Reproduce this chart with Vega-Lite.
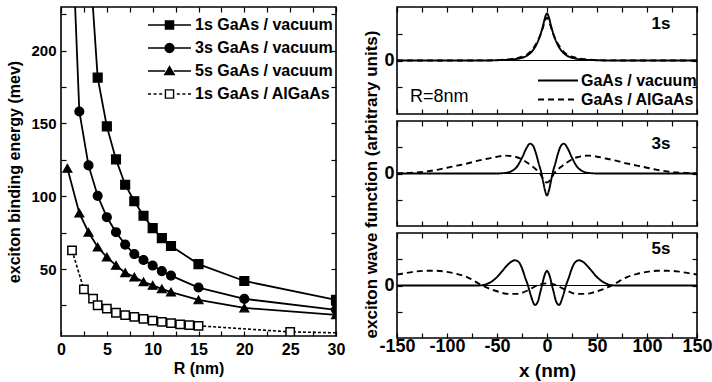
{
  "$schema": "https://vega.github.io/schema/vega-lite/v6.json",
  "padding": {"left": 6, "top": 5, "right": 0, "bottom": 0},
  "background": "white",
  "datasets": {
    "be": [
      {"R": 3, "E": 275, "series": "1s GaAs / vacuum"},
      {"R": 4, "E": 181.5, "series": "1s GaAs / vacuum"},
      {"R": 5, "E": 148, "series": "1s GaAs / vacuum"},
      {"R": 6, "E": 125.3, "series": "1s GaAs / vacuum"},
      {"R": 7, "E": 107.9, "series": "1s GaAs / vacuum"},
      {"R": 8, "E": 96.6, "series": "1s GaAs / vacuum"},
      {"R": 9, "E": 86.6, "series": "1s GaAs / vacuum"},
      {"R": 10, "E": 78.1, "series": "1s GaAs / vacuum"},
      {"R": 11, "E": 71.2, "series": "1s GaAs / vacuum"},
      {"R": 12, "E": 65.8, "series": "1s GaAs / vacuum"},
      {"R": 15, "E": 53.4, "series": "1s GaAs / vacuum"},
      {"R": 20, "E": 41.8, "series": "1s GaAs / vacuum"},
      {"R": 30, "E": 28.8, "series": "1s GaAs / vacuum"},
      {"R": 1, "E": 315, "series": "3s GaAs / vacuum"},
      {"R": 2, "E": 158.2, "series": "3s GaAs / vacuum"},
      {"R": 3, "E": 121.2, "series": "3s GaAs / vacuum"},
      {"R": 4, "E": 100.3, "series": "3s GaAs / vacuum"},
      {"R": 5, "E": 85.6, "series": "3s GaAs / vacuum"},
      {"R": 6, "E": 75.3, "series": "3s GaAs / vacuum"},
      {"R": 7, "E": 66.8, "series": "3s GaAs / vacuum"},
      {"R": 8, "E": 60.3, "series": "3s GaAs / vacuum"},
      {"R": 9, "E": 56.2, "series": "3s GaAs / vacuum"},
      {"R": 10, "E": 52.4, "series": "3s GaAs / vacuum"},
      {"R": 11, "E": 48.6, "series": "3s GaAs / vacuum"},
      {"R": 12, "E": 45.5, "series": "3s GaAs / vacuum"},
      {"R": 15, "E": 37.3, "series": "3s GaAs / vacuum"},
      {"R": 20, "E": 29.5, "series": "3s GaAs / vacuum"},
      {"R": 30, "E": 22, "series": "3s GaAs / vacuum"},
      {"R": 0.7, "E": 119.2, "series": "5s GaAs / vacuum"},
      {"R": 2, "E": 88.4, "series": "5s GaAs / vacuum"},
      {"R": 3, "E": 75.3, "series": "5s GaAs / vacuum"},
      {"R": 4, "E": 65.1, "series": "5s GaAs / vacuum"},
      {"R": 5, "E": 58.2, "series": "5s GaAs / vacuum"},
      {"R": 6, "E": 52.5, "series": "5s GaAs / vacuum"},
      {"R": 7, "E": 47.5, "series": "5s GaAs / vacuum"},
      {"R": 8, "E": 44.5, "series": "5s GaAs / vacuum"},
      {"R": 9, "E": 41.2, "series": "5s GaAs / vacuum"},
      {"R": 10, "E": 38.8, "series": "5s GaAs / vacuum"},
      {"R": 11, "E": 36.4, "series": "5s GaAs / vacuum"},
      {"R": 12, "E": 34.2, "series": "5s GaAs / vacuum"},
      {"R": 15, "E": 28.8, "series": "5s GaAs / vacuum"},
      {"R": 20, "E": 23.3, "series": "5s GaAs / vacuum"},
      {"R": 30, "E": 18.5, "series": "5s GaAs / vacuum"},
      {"R": 1.2, "E": 62.8, "series": "1s GaAs / AlGaAs"},
      {"R": 2.5, "E": 36, "series": "1s GaAs / AlGaAs"},
      {"R": 3.5, "E": 29.7, "series": "1s GaAs / AlGaAs"},
      {"R": 4, "E": 25.1, "series": "1s GaAs / AlGaAs"},
      {"R": 5, "E": 22.8, "series": "1s GaAs / AlGaAs"},
      {"R": 6, "E": 20, "series": "1s GaAs / AlGaAs"},
      {"R": 7, "E": 18.3, "series": "1s GaAs / AlGaAs"},
      {"R": 8, "E": 17.1, "series": "1s GaAs / AlGaAs"},
      {"R": 9, "E": 15.8, "series": "1s GaAs / AlGaAs"},
      {"R": 10, "E": 14.6, "series": "1s GaAs / AlGaAs"},
      {"R": 11, "E": 13.7, "series": "1s GaAs / AlGaAs"},
      {"R": 12, "E": 12.8, "series": "1s GaAs / AlGaAs"},
      {"R": 13, "E": 12, "series": "1s GaAs / AlGaAs"},
      {"R": 14, "E": 11.5, "series": "1s GaAs / AlGaAs"},
      {"R": 15, "E": 11, "series": "1s GaAs / AlGaAs"},
      {"R": 25, "E": 6.8, "series": "1s GaAs / AlGaAs"},
      {"R": 30, "E": 6.2, "series": "1s GaAs / AlGaAs"}
    ],
    "wf": [
      {"x": -150, "psi": 0, "state": "1s", "material": "GaAs / vacuum"},
      {"x": -100, "psi": 0, "state": "1s", "material": "GaAs / vacuum"},
      {"x": -60, "psi": 0, "state": "1s", "material": "GaAs / vacuum"},
      {"x": -50, "psi": 0.005, "state": "1s", "material": "GaAs / vacuum"},
      {"x": -40, "psi": 0.012, "state": "1s", "material": "GaAs / vacuum"},
      {"x": -35, "psi": 0.02, "state": "1s", "material": "GaAs / vacuum"},
      {"x": -30, "psi": 0.03, "state": "1s", "material": "GaAs / vacuum"},
      {"x": -25, "psi": 0.05, "state": "1s", "material": "GaAs / vacuum"},
      {"x": -20, "psi": 0.09, "state": "1s", "material": "GaAs / vacuum"},
      {"x": -15, "psi": 0.17, "state": "1s", "material": "GaAs / vacuum"},
      {"x": -10, "psi": 0.32, "state": "1s", "material": "GaAs / vacuum"},
      {"x": -7, "psi": 0.46, "state": "1s", "material": "GaAs / vacuum"},
      {"x": -4, "psi": 0.65, "state": "1s", "material": "GaAs / vacuum"},
      {"x": -2, "psi": 0.8, "state": "1s", "material": "GaAs / vacuum"},
      {"x": 0, "psi": 0.88, "state": "1s", "material": "GaAs / vacuum"},
      {"x": 2, "psi": 0.8, "state": "1s", "material": "GaAs / vacuum"},
      {"x": 4, "psi": 0.65, "state": "1s", "material": "GaAs / vacuum"},
      {"x": 7, "psi": 0.46, "state": "1s", "material": "GaAs / vacuum"},
      {"x": 10, "psi": 0.32, "state": "1s", "material": "GaAs / vacuum"},
      {"x": 15, "psi": 0.17, "state": "1s", "material": "GaAs / vacuum"},
      {"x": 20, "psi": 0.09, "state": "1s", "material": "GaAs / vacuum"},
      {"x": 25, "psi": 0.05, "state": "1s", "material": "GaAs / vacuum"},
      {"x": 30, "psi": 0.03, "state": "1s", "material": "GaAs / vacuum"},
      {"x": 35, "psi": 0.02, "state": "1s", "material": "GaAs / vacuum"},
      {"x": 40, "psi": 0.012, "state": "1s", "material": "GaAs / vacuum"},
      {"x": 50, "psi": 0.005, "state": "1s", "material": "GaAs / vacuum"},
      {"x": 60, "psi": 0, "state": "1s", "material": "GaAs / vacuum"},
      {"x": 100, "psi": 0, "state": "1s", "material": "GaAs / vacuum"},
      {"x": 150, "psi": 0, "state": "1s", "material": "GaAs / vacuum"},
      {"x": -150, "psi": 0, "state": "1s", "material": "GaAs / AlGaAs"},
      {"x": -100, "psi": 0, "state": "1s", "material": "GaAs / AlGaAs"},
      {"x": -60, "psi": 0.003, "state": "1s", "material": "GaAs / AlGaAs"},
      {"x": -50, "psi": 0.008, "state": "1s", "material": "GaAs / AlGaAs"},
      {"x": -40, "psi": 0.02, "state": "1s", "material": "GaAs / AlGaAs"},
      {"x": -35, "psi": 0.03, "state": "1s", "material": "GaAs / AlGaAs"},
      {"x": -30, "psi": 0.045, "state": "1s", "material": "GaAs / AlGaAs"},
      {"x": -25, "psi": 0.07, "state": "1s", "material": "GaAs / AlGaAs"},
      {"x": -20, "psi": 0.11, "state": "1s", "material": "GaAs / AlGaAs"},
      {"x": -15, "psi": 0.2, "state": "1s", "material": "GaAs / AlGaAs"},
      {"x": -10, "psi": 0.34, "state": "1s", "material": "GaAs / AlGaAs"},
      {"x": -7, "psi": 0.46, "state": "1s", "material": "GaAs / AlGaAs"},
      {"x": -4, "psi": 0.62, "state": "1s", "material": "GaAs / AlGaAs"},
      {"x": -2, "psi": 0.74, "state": "1s", "material": "GaAs / AlGaAs"},
      {"x": 0, "psi": 0.8, "state": "1s", "material": "GaAs / AlGaAs"},
      {"x": 2, "psi": 0.74, "state": "1s", "material": "GaAs / AlGaAs"},
      {"x": 4, "psi": 0.62, "state": "1s", "material": "GaAs / AlGaAs"},
      {"x": 7, "psi": 0.46, "state": "1s", "material": "GaAs / AlGaAs"},
      {"x": 10, "psi": 0.34, "state": "1s", "material": "GaAs / AlGaAs"},
      {"x": 15, "psi": 0.2, "state": "1s", "material": "GaAs / AlGaAs"},
      {"x": 20, "psi": 0.11, "state": "1s", "material": "GaAs / AlGaAs"},
      {"x": 25, "psi": 0.07, "state": "1s", "material": "GaAs / AlGaAs"},
      {"x": 30, "psi": 0.045, "state": "1s", "material": "GaAs / AlGaAs"},
      {"x": 35, "psi": 0.03, "state": "1s", "material": "GaAs / AlGaAs"},
      {"x": 40, "psi": 0.02, "state": "1s", "material": "GaAs / AlGaAs"},
      {"x": 50, "psi": 0.008, "state": "1s", "material": "GaAs / AlGaAs"},
      {"x": 60, "psi": 0.003, "state": "1s", "material": "GaAs / AlGaAs"},
      {"x": 100, "psi": 0, "state": "1s", "material": "GaAs / AlGaAs"},
      {"x": 150, "psi": 0, "state": "1s", "material": "GaAs / AlGaAs"},
      {"x": -150, "psi": 0, "state": "3s", "material": "GaAs / vacuum"},
      {"x": -100, "psi": 0, "state": "3s", "material": "GaAs / vacuum"},
      {"x": -50, "psi": 0, "state": "3s", "material": "GaAs / vacuum"},
      {"x": -45, "psi": 0.005, "state": "3s", "material": "GaAs / vacuum"},
      {"x": -40, "psi": 0.015, "state": "3s", "material": "GaAs / vacuum"},
      {"x": -35, "psi": 0.05, "state": "3s", "material": "GaAs / vacuum"},
      {"x": -30, "psi": 0.13, "state": "3s", "material": "GaAs / vacuum"},
      {"x": -25, "psi": 0.3, "state": "3s", "material": "GaAs / vacuum"},
      {"x": -20, "psi": 0.5, "state": "3s", "material": "GaAs / vacuum"},
      {"x": -17, "psi": 0.57, "state": "3s", "material": "GaAs / vacuum"},
      {"x": -14, "psi": 0.53, "state": "3s", "material": "GaAs / vacuum"},
      {"x": -11, "psi": 0.38, "state": "3s", "material": "GaAs / vacuum"},
      {"x": -8, "psi": 0.17, "state": "3s", "material": "GaAs / vacuum"},
      {"x": -6, "psi": 0.04, "state": "3s", "material": "GaAs / vacuum"},
      {"x": -4, "psi": -0.14, "state": "3s", "material": "GaAs / vacuum"},
      {"x": -2, "psi": -0.32, "state": "3s", "material": "GaAs / vacuum"},
      {"x": 0, "psi": -0.42, "state": "3s", "material": "GaAs / vacuum"},
      {"x": 2, "psi": -0.32, "state": "3s", "material": "GaAs / vacuum"},
      {"x": 4, "psi": -0.14, "state": "3s", "material": "GaAs / vacuum"},
      {"x": 6, "psi": 0.04, "state": "3s", "material": "GaAs / vacuum"},
      {"x": 8, "psi": 0.17, "state": "3s", "material": "GaAs / vacuum"},
      {"x": 11, "psi": 0.38, "state": "3s", "material": "GaAs / vacuum"},
      {"x": 14, "psi": 0.53, "state": "3s", "material": "GaAs / vacuum"},
      {"x": 17, "psi": 0.57, "state": "3s", "material": "GaAs / vacuum"},
      {"x": 20, "psi": 0.5, "state": "3s", "material": "GaAs / vacuum"},
      {"x": 25, "psi": 0.3, "state": "3s", "material": "GaAs / vacuum"},
      {"x": 30, "psi": 0.13, "state": "3s", "material": "GaAs / vacuum"},
      {"x": 35, "psi": 0.05, "state": "3s", "material": "GaAs / vacuum"},
      {"x": 40, "psi": 0.015, "state": "3s", "material": "GaAs / vacuum"},
      {"x": 45, "psi": 0.005, "state": "3s", "material": "GaAs / vacuum"},
      {"x": 50, "psi": 0, "state": "3s", "material": "GaAs / vacuum"},
      {"x": 100, "psi": 0, "state": "3s", "material": "GaAs / vacuum"},
      {"x": 150, "psi": 0, "state": "3s", "material": "GaAs / vacuum"},
      {"x": -150, "psi": 0, "state": "3s", "material": "GaAs / AlGaAs"},
      {"x": -140, "psi": 0.01, "state": "3s", "material": "GaAs / AlGaAs"},
      {"x": -130, "psi": 0.02, "state": "3s", "material": "GaAs / AlGaAs"},
      {"x": -120, "psi": 0.04, "state": "3s", "material": "GaAs / AlGaAs"},
      {"x": -110, "psi": 0.07, "state": "3s", "material": "GaAs / AlGaAs"},
      {"x": -100, "psi": 0.11, "state": "3s", "material": "GaAs / AlGaAs"},
      {"x": -90, "psi": 0.15, "state": "3s", "material": "GaAs / AlGaAs"},
      {"x": -80, "psi": 0.19, "state": "3s", "material": "GaAs / AlGaAs"},
      {"x": -70, "psi": 0.24, "state": "3s", "material": "GaAs / AlGaAs"},
      {"x": -60, "psi": 0.28, "state": "3s", "material": "GaAs / AlGaAs"},
      {"x": -50, "psi": 0.32, "state": "3s", "material": "GaAs / AlGaAs"},
      {"x": -42, "psi": 0.34, "state": "3s", "material": "GaAs / AlGaAs"},
      {"x": -35, "psi": 0.33, "state": "3s", "material": "GaAs / AlGaAs"},
      {"x": -30, "psi": 0.31, "state": "3s", "material": "GaAs / AlGaAs"},
      {"x": -25, "psi": 0.27, "state": "3s", "material": "GaAs / AlGaAs"},
      {"x": -20, "psi": 0.21, "state": "3s", "material": "GaAs / AlGaAs"},
      {"x": -15, "psi": 0.14, "state": "3s", "material": "GaAs / AlGaAs"},
      {"x": -10, "psi": 0.06, "state": "3s", "material": "GaAs / AlGaAs"},
      {"x": -7, "psi": 0, "state": "3s", "material": "GaAs / AlGaAs"},
      {"x": -4, "psi": -0.1, "state": "3s", "material": "GaAs / AlGaAs"},
      {"x": -2, "psi": -0.15, "state": "3s", "material": "GaAs / AlGaAs"},
      {"x": 0, "psi": -0.17, "state": "3s", "material": "GaAs / AlGaAs"},
      {"x": 2, "psi": -0.15, "state": "3s", "material": "GaAs / AlGaAs"},
      {"x": 4, "psi": -0.1, "state": "3s", "material": "GaAs / AlGaAs"},
      {"x": 7, "psi": 0, "state": "3s", "material": "GaAs / AlGaAs"},
      {"x": 10, "psi": 0.06, "state": "3s", "material": "GaAs / AlGaAs"},
      {"x": 15, "psi": 0.14, "state": "3s", "material": "GaAs / AlGaAs"},
      {"x": 20, "psi": 0.21, "state": "3s", "material": "GaAs / AlGaAs"},
      {"x": 25, "psi": 0.27, "state": "3s", "material": "GaAs / AlGaAs"},
      {"x": 30, "psi": 0.31, "state": "3s", "material": "GaAs / AlGaAs"},
      {"x": 35, "psi": 0.33, "state": "3s", "material": "GaAs / AlGaAs"},
      {"x": 42, "psi": 0.34, "state": "3s", "material": "GaAs / AlGaAs"},
      {"x": 50, "psi": 0.32, "state": "3s", "material": "GaAs / AlGaAs"},
      {"x": 60, "psi": 0.28, "state": "3s", "material": "GaAs / AlGaAs"},
      {"x": 70, "psi": 0.24, "state": "3s", "material": "GaAs / AlGaAs"},
      {"x": 80, "psi": 0.19, "state": "3s", "material": "GaAs / AlGaAs"},
      {"x": 90, "psi": 0.15, "state": "3s", "material": "GaAs / AlGaAs"},
      {"x": 100, "psi": 0.11, "state": "3s", "material": "GaAs / AlGaAs"},
      {"x": 110, "psi": 0.07, "state": "3s", "material": "GaAs / AlGaAs"},
      {"x": 120, "psi": 0.04, "state": "3s", "material": "GaAs / AlGaAs"},
      {"x": 130, "psi": 0.02, "state": "3s", "material": "GaAs / AlGaAs"},
      {"x": 140, "psi": 0.01, "state": "3s", "material": "GaAs / AlGaAs"},
      {"x": 150, "psi": 0, "state": "3s", "material": "GaAs / AlGaAs"},
      {"x": -150, "psi": 0, "state": "5s", "material": "GaAs / vacuum"},
      {"x": -100, "psi": 0, "state": "5s", "material": "GaAs / vacuum"},
      {"x": -70, "psi": 0, "state": "5s", "material": "GaAs / vacuum"},
      {"x": -65, "psi": 0.005, "state": "5s", "material": "GaAs / vacuum"},
      {"x": -60, "psi": 0.03, "state": "5s", "material": "GaAs / vacuum"},
      {"x": -55, "psi": 0.08, "state": "5s", "material": "GaAs / vacuum"},
      {"x": -50, "psi": 0.16, "state": "5s", "material": "GaAs / vacuum"},
      {"x": -45, "psi": 0.27, "state": "5s", "material": "GaAs / vacuum"},
      {"x": -40, "psi": 0.38, "state": "5s", "material": "GaAs / vacuum"},
      {"x": -36, "psi": 0.45, "state": "5s", "material": "GaAs / vacuum"},
      {"x": -32, "psi": 0.48, "state": "5s", "material": "GaAs / vacuum"},
      {"x": -28, "psi": 0.44, "state": "5s", "material": "GaAs / vacuum"},
      {"x": -25, "psi": 0.33, "state": "5s", "material": "GaAs / vacuum"},
      {"x": -22, "psi": 0.16, "state": "5s", "material": "GaAs / vacuum"},
      {"x": -19, "psi": 0, "state": "5s", "material": "GaAs / vacuum"},
      {"x": -16, "psi": -0.2, "state": "5s", "material": "GaAs / vacuum"},
      {"x": -12, "psi": -0.37, "state": "5s", "material": "GaAs / vacuum"},
      {"x": -9, "psi": -0.3, "state": "5s", "material": "GaAs / vacuum"},
      {"x": -7, "psi": -0.15, "state": "5s", "material": "GaAs / vacuum"},
      {"x": -5, "psi": 0, "state": "5s", "material": "GaAs / vacuum"},
      {"x": -3, "psi": 0.16, "state": "5s", "material": "GaAs / vacuum"},
      {"x": -1, "psi": 0.26, "state": "5s", "material": "GaAs / vacuum"},
      {"x": 0, "psi": 0.28, "state": "5s", "material": "GaAs / vacuum"},
      {"x": 1, "psi": 0.26, "state": "5s", "material": "GaAs / vacuum"},
      {"x": 3, "psi": 0.16, "state": "5s", "material": "GaAs / vacuum"},
      {"x": 5, "psi": 0, "state": "5s", "material": "GaAs / vacuum"},
      {"x": 7, "psi": -0.15, "state": "5s", "material": "GaAs / vacuum"},
      {"x": 9, "psi": -0.3, "state": "5s", "material": "GaAs / vacuum"},
      {"x": 12, "psi": -0.37, "state": "5s", "material": "GaAs / vacuum"},
      {"x": 16, "psi": -0.2, "state": "5s", "material": "GaAs / vacuum"},
      {"x": 19, "psi": 0, "state": "5s", "material": "GaAs / vacuum"},
      {"x": 22, "psi": 0.16, "state": "5s", "material": "GaAs / vacuum"},
      {"x": 25, "psi": 0.33, "state": "5s", "material": "GaAs / vacuum"},
      {"x": 28, "psi": 0.44, "state": "5s", "material": "GaAs / vacuum"},
      {"x": 32, "psi": 0.48, "state": "5s", "material": "GaAs / vacuum"},
      {"x": 36, "psi": 0.45, "state": "5s", "material": "GaAs / vacuum"},
      {"x": 40, "psi": 0.38, "state": "5s", "material": "GaAs / vacuum"},
      {"x": 45, "psi": 0.27, "state": "5s", "material": "GaAs / vacuum"},
      {"x": 50, "psi": 0.16, "state": "5s", "material": "GaAs / vacuum"},
      {"x": 55, "psi": 0.08, "state": "5s", "material": "GaAs / vacuum"},
      {"x": 60, "psi": 0.03, "state": "5s", "material": "GaAs / vacuum"},
      {"x": 65, "psi": 0.005, "state": "5s", "material": "GaAs / vacuum"},
      {"x": 70, "psi": 0, "state": "5s", "material": "GaAs / vacuum"},
      {"x": 100, "psi": 0, "state": "5s", "material": "GaAs / vacuum"},
      {"x": 150, "psi": 0, "state": "5s", "material": "GaAs / vacuum"},
      {"x": -150, "psi": 0.21, "state": "5s", "material": "GaAs / AlGaAs"},
      {"x": -140, "psi": 0.24, "state": "5s", "material": "GaAs / AlGaAs"},
      {"x": -130, "psi": 0.27, "state": "5s", "material": "GaAs / AlGaAs"},
      {"x": -120, "psi": 0.28, "state": "5s", "material": "GaAs / AlGaAs"},
      {"x": -110, "psi": 0.28, "state": "5s", "material": "GaAs / AlGaAs"},
      {"x": -100, "psi": 0.26, "state": "5s", "material": "GaAs / AlGaAs"},
      {"x": -90, "psi": 0.22, "state": "5s", "material": "GaAs / AlGaAs"},
      {"x": -80, "psi": 0.16, "state": "5s", "material": "GaAs / AlGaAs"},
      {"x": -72, "psi": 0.08, "state": "5s", "material": "GaAs / AlGaAs"},
      {"x": -65, "psi": 0, "state": "5s", "material": "GaAs / AlGaAs"},
      {"x": -60, "psi": -0.04, "state": "5s", "material": "GaAs / AlGaAs"},
      {"x": -55, "psi": -0.08, "state": "5s", "material": "GaAs / AlGaAs"},
      {"x": -50, "psi": -0.11, "state": "5s", "material": "GaAs / AlGaAs"},
      {"x": -45, "psi": -0.14, "state": "5s", "material": "GaAs / AlGaAs"},
      {"x": -38, "psi": -0.16, "state": "5s", "material": "GaAs / AlGaAs"},
      {"x": -30, "psi": -0.16, "state": "5s", "material": "GaAs / AlGaAs"},
      {"x": -25, "psi": -0.14, "state": "5s", "material": "GaAs / AlGaAs"},
      {"x": -20, "psi": -0.1, "state": "5s", "material": "GaAs / AlGaAs"},
      {"x": -15, "psi": -0.05, "state": "5s", "material": "GaAs / AlGaAs"},
      {"x": -10, "psi": 0, "state": "5s", "material": "GaAs / AlGaAs"},
      {"x": -5, "psi": 0.03, "state": "5s", "material": "GaAs / AlGaAs"},
      {"x": 0, "psi": 0.04, "state": "5s", "material": "GaAs / AlGaAs"},
      {"x": 5, "psi": 0.03, "state": "5s", "material": "GaAs / AlGaAs"},
      {"x": 10, "psi": 0, "state": "5s", "material": "GaAs / AlGaAs"},
      {"x": 15, "psi": -0.05, "state": "5s", "material": "GaAs / AlGaAs"},
      {"x": 20, "psi": -0.1, "state": "5s", "material": "GaAs / AlGaAs"},
      {"x": 25, "psi": -0.14, "state": "5s", "material": "GaAs / AlGaAs"},
      {"x": 30, "psi": -0.16, "state": "5s", "material": "GaAs / AlGaAs"},
      {"x": 38, "psi": -0.16, "state": "5s", "material": "GaAs / AlGaAs"},
      {"x": 45, "psi": -0.14, "state": "5s", "material": "GaAs / AlGaAs"},
      {"x": 50, "psi": -0.11, "state": "5s", "material": "GaAs / AlGaAs"},
      {"x": 55, "psi": -0.08, "state": "5s", "material": "GaAs / AlGaAs"},
      {"x": 60, "psi": -0.04, "state": "5s", "material": "GaAs / AlGaAs"},
      {"x": 65, "psi": 0, "state": "5s", "material": "GaAs / AlGaAs"},
      {"x": 72, "psi": 0.08, "state": "5s", "material": "GaAs / AlGaAs"},
      {"x": 80, "psi": 0.16, "state": "5s", "material": "GaAs / AlGaAs"},
      {"x": 90, "psi": 0.22, "state": "5s", "material": "GaAs / AlGaAs"},
      {"x": 100, "psi": 0.26, "state": "5s", "material": "GaAs / AlGaAs"},
      {"x": 110, "psi": 0.28, "state": "5s", "material": "GaAs / AlGaAs"},
      {"x": 120, "psi": 0.28, "state": "5s", "material": "GaAs / AlGaAs"},
      {"x": 130, "psi": 0.27, "state": "5s", "material": "GaAs / AlGaAs"},
      {"x": 140, "psi": 0.24, "state": "5s", "material": "GaAs / AlGaAs"},
      {"x": 150, "psi": 0.21, "state": "5s", "material": "GaAs / AlGaAs"}
    ],
    "labels1": [{"label": "1s"}],
    "labelsR": [{"label": "R=8nm"}],
    "labels3": [{"label": "3s"}],
    "labels5": [{"label": "5s"}],
    "one": [{"zero": 0}]
  },
  "hconcat": [
    {
      "width": 275,
      "height": 329,
      "resolve": {"axis": {"x": "independent", "y": "independent"}},
      "layer": [
        {
          "data": {"name": "be"},
          "transform": [{"filter": "datum.series != '1s GaAs / AlGaAs'"}],
          "mark": {"type": "line", "clip": true, "color": "black", "strokeWidth": 1.8},
          "encoding": {
            "x": {"field": "R", "type": "quantitative", "scale": {"domain": [0, 30], "nice": false, "zero": false},
              "axis": {"orient": "bottom", "values": [0, 2.5, 5, 7.5, 10, 12.5, 15, 17.5, 20, 22.5, 25, 27.5, 30], "labelExpr": "datum.value % 5 == 0 ? datum.label : ''", "title": "R (nm)", "labelFontSize": 16, "titleFontSize": 16, "labelPadding": 10, "titlePadding": 3}},
            "y": {"field": "E", "type": "quantitative", "scale": {"domain": [4, 230], "nice": false, "zero": false},
              "axis": {"orient": "left", "values": [25, 50, 75, 100, 125, 150, 175, 200, 225], "labelExpr": "datum.value % 50 == 0 ? datum.label : ''", "title": "exciton binding energy (mev)", "labelFontSize": 15, "titleFontSize": 16, "labelPadding": 10, "titlePadding": 8}},
            "detail": {"field": "series", "type": "nominal"}
          }
        },
        {
          "data": {"name": "be"},
          "transform": [{"filter": "datum.series == '1s GaAs / AlGaAs'"}],
          "mark": {"type": "line", "clip": true, "color": "black", "strokeWidth": 1.6, "strokeDash": [3, 2]},
          "encoding": {
            "x": {"field": "R", "type": "quantitative", "axis": null},
            "y": {"field": "E", "type": "quantitative", "axis": null}
          }
        },
        {
          "data": {"name": "be"},
          "transform": [{"filter": "datum.series == '1s GaAs / vacuum'"}],
          "mark": {"type": "point", "shape": "square", "clip": true, "filled": true, "fill": "black", "stroke": "black", "strokeWidth": 1.2, "size": 80, "opacity": 1},
          "encoding": {
            "x": {"field": "R", "type": "quantitative", "axis": {"orient": "top", "values": [0, 2.5, 5, 7.5, 10, 12.5, 15, 17.5, 20, 22.5, 25, 27.5, 30], "labels": false, "title": null}},
            "y": {"field": "E", "type": "quantitative", "axis": {"orient": "right", "values": [25, 50, 75, 100, 125, 150, 175, 200, 225], "labels": false, "title": null}}
          }
        },
        {
          "data": {"name": "be"},
          "transform": [{"filter": "datum.series == '3s GaAs / vacuum'"}],
          "mark": {"type": "point", "shape": "circle", "clip": true, "filled": true, "fill": "black", "stroke": "black", "strokeWidth": 1.2, "size": 80, "opacity": 1},
          "encoding": {
            "x": {"field": "R", "type": "quantitative", "axis": null},
            "y": {"field": "E", "type": "quantitative", "axis": null}
          }
        },
        {
          "data": {"name": "be"},
          "transform": [{"filter": "datum.series == '5s GaAs / vacuum'"}],
          "mark": {"type": "point", "shape": "triangle-up", "clip": true, "filled": true, "fill": "black", "stroke": "black", "strokeWidth": 1.2, "size": 80, "opacity": 1},
          "encoding": {
            "x": {"field": "R", "type": "quantitative", "axis": null},
            "y": {"field": "E", "type": "quantitative", "axis": null}
          }
        },
        {
          "data": {"name": "be"},
          "transform": [{"filter": "datum.series == '1s GaAs / AlGaAs' && datum.R < 30"}],
          "mark": {"type": "point", "shape": "square", "clip": true, "filled": true, "fill": "white", "stroke": "black", "strokeWidth": 1.5, "size": 70, "opacity": 1},
          "encoding": {
            "x": {"field": "R", "type": "quantitative", "axis": null},
            "y": {"field": "E", "type": "quantitative", "axis": null}
          }
        },
        {
          "data": {"name": "be"},
          "transform": [{"filter": "datum.R < 0"}],
          "mark": {"type": "point", "filled": true, "strokeWidth": 1.4, "clip": true},
          "encoding": {
            "x": {"field": "R", "type": "quantitative", "axis": null},
            "y": {"field": "E", "type": "quantitative", "axis": null},
            "shape": {"field": "series", "type": "nominal",
              "scale": {"domain": ["1s GaAs / vacuum", "3s GaAs / vacuum", "5s GaAs / vacuum", "1s GaAs / AlGaAs"],
                "range": ["M-1,0H-0.19M0.19,0H1M-0.19,-0.19H0.19V0.19H-0.19Z", "M-1,0H-0.21M0.21,0H1M0.21,0L0.182,0.105L0.105,0.182L0,0.21L-0.105,0.182L-0.182,0.105L-0.21,0L-0.182,-0.105L-0.105,-0.182L0,-0.21L0.105,-0.182L0.182,-0.105Z", "M-1,0H-0.2M0.2,0H1M0,-0.2L0.22,0.17L-0.22,0.17Z", "M-1,0H-0.86M-0.74,0H-0.6M-0.48,0H-0.34M0.34,0H0.48M0.6,0H0.74M0.86,0H1M-0.19,-0.19H0.19V0.19H-0.19Z"]},
              "legend": {
                "title": null, "orient": "none", "legendX": 86, "legendY": 8, "padding": 0,
                "symbolSize": 1849, "clipHeight": 20, "rowPadding": 3, "labelOffset": 3,
                "labelFont": "Liberation Sans", "labelFontSize": 16, "labelFontWeight": "bold", "labelColor": "black",
                "symbolStrokeWidth": 1.4, "symbolStrokeColor": "black", "symbolOpacity": 1
              }},
            "fill": {"field": "series", "type": "nominal",
              "scale": {"domain": ["1s GaAs / vacuum", "3s GaAs / vacuum", "5s GaAs / vacuum", "1s GaAs / AlGaAs"], "range": ["black", "black", "black", "white"]},
              "legend": {
                "title": null, "orient": "none", "legendX": 86, "legendY": 8, "padding": 0,
                "symbolSize": 1849, "clipHeight": 20, "rowPadding": 3, "labelOffset": 3,
                "labelFont": "Liberation Sans", "labelFontSize": 16, "labelFontWeight": "bold", "labelColor": "black",
                "symbolStrokeWidth": 1.4, "symbolStrokeColor": "black", "symbolOpacity": 1
              }},
            "stroke": {"field": "series", "type": "nominal",
              "scale": {"domain": ["1s GaAs / vacuum", "3s GaAs / vacuum", "5s GaAs / vacuum", "1s GaAs / AlGaAs"], "range": ["black", "black", "black", "black"]},
              "legend": {
                "title": null, "orient": "none", "legendX": 86, "legendY": 8, "padding": 0,
                "symbolSize": 1849, "clipHeight": 20, "rowPadding": 3, "labelOffset": 3,
                "labelFont": "Liberation Sans", "labelFontSize": 16, "labelFontWeight": "bold", "labelColor": "black",
                "symbolStrokeWidth": 1.4, "symbolStrokeColor": "black", "symbolOpacity": 1
              }}
          }
        }
      ]
    },
    {
      "bounds": "flush",
      "spacing": 7,
      "resolve": {"scale": {"strokeDash": "independent"}, "legend": {"strokeDash": "independent"}},
      "vconcat": [
        {
          "width": 300,
          "height": 107,
          "resolve": {"axis": {"x": "independent", "y": "independent"}},
          "layer": [
            {
              "data": {"name": "one"},
              "mark": {"type": "rule", "color": "black", "strokeWidth": 1.2},
              "encoding": {"y": {"field": "zero", "type": "quantitative", "scale": {"domain": [-1, 1], "nice": false, "zero": false}, "axis": {"orient": "right", "values": [-0.5, 0, 0.5], "labels": false, "title": null}}}
            },
            {
              "data": {"name": "wf"},
              "transform": [{"filter": "datum.state == '1s'"}],
              "mark": {"type": "line", "color": "black", "strokeWidth": 1.9, "interpolate": "monotone", "clip": true},
              "encoding": {
                "x": {"field": "x", "type": "quantitative", "scale": {"domain": [-150, 150], "nice": false, "zero": false}, "axis": {"orient": "bottom", "values": [-150, -125, -100, -75, -50, -25, 0, 25, 50, 75, 100, 125, 150], "labels": false, "title": null}},
                "y": {"field": "psi", "type": "quantitative", "axis": {"orient": "left", "values": [-0.5, 0, 0.5], "labelExpr": "datum.value == 0 ? '0' : ''", "title": null, "labelFontSize": 18, "labelPadding": 8}},
                "strokeDash": {"field": "material", "type": "nominal", "scale": {"domain": ["GaAs / vacuum", "GaAs / AlGaAs"], "range": [[1, 0], [6, 4]]},
                  "legend": {"title": null, "orient": "none", "legendX": 140, "legendY": 66, "padding": 0, "symbolType": "stroke", "symbolSize": 1600, "symbolStrokeWidth": 1.9, "symbolStrokeColor": "black", "clipHeight": 15, "rowPadding": 2, "labelOffset": 2, "labelFont": "Liberation Sans", "labelFontSize": 16, "labelFontWeight": "bold", "labelColor": "black"}}
              }
            },
            {
              "data": {"name": "labels1"},
              "mark": {"type": "text", "font": "Liberation Sans", "fontSize": 17, "fontWeight": "bold", "align": "center", "baseline": "middle", "color": "black"},
              "encoding": {
                "x": {"datum": 114, "type": "quantitative", "axis": {"orient": "top", "values": [-150, -125, -100, -75, -50, -25, 0, 25, 50, 75, 100, 125, 150], "labels": false, "title": null}},
                "y": {"datum": 0.69, "type": "quantitative", "axis": null},
                "text": {"field": "label"}
              }
            },
            {
              "data": {"name": "labelsR"},
              "mark": {"type": "text", "font": "Liberation Sans", "fontSize": 18, "fontWeight": "normal", "align": "left", "baseline": "middle", "color": "black"},
              "encoding": {
                "x": {"datum": -137, "type": "quantitative", "axis": null},
                "y": {"datum": -0.69, "type": "quantitative", "axis": null},
                "text": {"field": "label"}
              }
            }
          ]
        },
        {
          "width": 300,
          "height": 105,
          "resolve": {"axis": {"x": "independent", "y": "independent"}},
          "layer": [
            {
              "data": {"name": "one"},
              "mark": {"type": "rule", "color": "black", "strokeWidth": 1.2},
              "encoding": {"y": {"field": "zero", "type": "quantitative", "scale": {"domain": [-1, 1], "nice": false, "zero": false}, "axis": {"orient": "right", "values": [-0.5, 0, 0.5], "labels": false, "title": null}}}
            },
            {
              "data": {"name": "wf"},
              "transform": [{"filter": "datum.state == '3s'"}],
              "mark": {"type": "line", "color": "black", "strokeWidth": 1.9, "interpolate": "monotone", "clip": true},
              "encoding": {
                "x": {"field": "x", "type": "quantitative", "scale": {"domain": [-150, 150], "nice": false, "zero": false}, "axis": {"orient": "bottom", "values": [-150, -125, -100, -75, -50, -25, 0, 25, 50, 75, 100, 125, 150], "labels": false, "title": null}},
                "y": {"field": "psi", "type": "quantitative", "axis": {"orient": "left", "values": [-0.5, 0, 0.5], "labelExpr": "datum.value == 0 ? '0' : ''", "title": "exciton wave function (arbitrary units)", "titleFontSize": 17, "titlePadding": 3, "titleY": 63, "labelFontSize": 18, "labelPadding": 8}},
                "strokeDash": {"field": "material", "type": "nominal", "scale": {"domain": ["GaAs / vacuum", "GaAs / AlGaAs"], "range": [[1, 0], [6, 4]]}, "legend": null}
              }
            },
            {
              "data": {"name": "labels3"},
              "mark": {"type": "text", "font": "Liberation Sans", "fontSize": 17, "fontWeight": "bold", "align": "center", "baseline": "middle", "color": "black"},
              "encoding": {
                "x": {"datum": 114, "type": "quantitative", "axis": {"orient": "top", "values": [-150, -125, -100, -75, -50, -25, 0, 25, 50, 75, 100, 125, 150], "labels": false, "title": null}},
                "y": {"datum": 0.57, "type": "quantitative", "axis": null},
                "text": {"field": "label"}
              }
            }
          ]
        },
        {
          "width": 300,
          "height": 105,
          "resolve": {"axis": {"x": "independent", "y": "independent"}},
          "layer": [
            {
              "data": {"name": "one"},
              "mark": {"type": "rule", "color": "black", "strokeWidth": 1.2},
              "encoding": {"y": {"field": "zero", "type": "quantitative", "scale": {"domain": [-1, 1], "nice": false, "zero": false}, "axis": {"orient": "right", "values": [-0.5, 0, 0.5], "labels": false, "title": null}}}
            },
            {
              "data": {"name": "wf"},
              "transform": [{"filter": "datum.state == '5s'"}],
              "mark": {"type": "line", "color": "black", "strokeWidth": 1.9, "interpolate": "monotone", "clip": true},
              "encoding": {
                "x": {"field": "x", "type": "quantitative", "scale": {"domain": [-150, 150], "nice": false, "zero": false}, "axis": {"orient": "bottom", "values": [-150, -125, -100, -75, -50, -25, 0, 25, 50, 75, 100, 125, 150], "labelExpr": "datum.value % 50 == 0 ? '' + datum.value : ''", "title": "x (nm)", "labelFontSize": 18, "titleFontSize": 19, "labelPadding": 4, "titlePadding": 6}},
                "y": {"field": "psi", "type": "quantitative", "axis": {"orient": "left", "values": [-0.5, 0, 0.5], "labelExpr": "datum.value == 0 ? '0' : ''", "title": null, "labelFontSize": 18, "labelPadding": 8}},
                "strokeDash": {"field": "material", "type": "nominal", "scale": {"domain": ["GaAs / vacuum", "GaAs / AlGaAs"], "range": [[1, 0], [6, 4]]}, "legend": null}
              }
            },
            {
              "data": {"name": "labels5"},
              "mark": {"type": "text", "font": "Liberation Sans", "fontSize": 17, "fontWeight": "bold", "align": "center", "baseline": "middle", "color": "black"},
              "encoding": {
                "x": {"datum": 114, "type": "quantitative", "axis": {"orient": "top", "values": [-150, -125, -100, -75, -50, -25, 0, 25, 50, 75, 100, 125, 150], "labels": false, "title": null}},
                "y": {"datum": 0.69, "type": "quantitative", "axis": null},
                "text": {"field": "label"}
              }
            }
          ]
        }
      ]
    }
  ],
  "bounds": "flush",
  "spacing": 61,
  "resolve": {
    "scale": {"x": "independent", "y": "independent", "strokeDash": "independent", "shape": "independent", "fill": "independent", "stroke": "independent"},
    "legend": {"strokeDash": "independent", "shape": "independent", "fill": "independent", "stroke": "independent"}
  },
  "config": {
    "view": {"stroke": "black", "strokeWidth": 1.6},
    "font": "Liberation Sans",
    "axis": {"domain": false, "grid": false, "ticks": true, "tickColor": "black", "tickSize": -5, "tickWidth": 1.2, "labelColor": "black", "titleColor": "black", "labelFont": "Liberation Sans", "titleFont": "Liberation Sans", "labelFontWeight": "bold", "titleFontWeight": "bold", "labelFlush": false, "labelOverlap": false}
  }
}
